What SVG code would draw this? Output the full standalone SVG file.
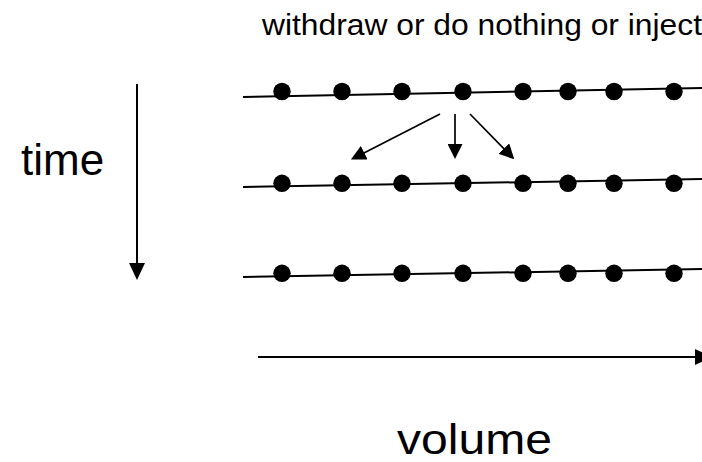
<svg xmlns="http://www.w3.org/2000/svg" width="702" height="462" viewBox="0 0 702 462">
<style>
.txt{font-family:"Liberation Sans",Arial,sans-serif;fill:#000}
.ln{stroke:#000;stroke-width:2;fill:none}
.ar{stroke:#000;stroke-width:1.7;fill:none}
.dot{fill:#000}
</style>
<defs>
<marker id="ah" markerUnits="userSpaceOnUse" markerWidth="17" markerHeight="16" viewBox="0 0 17 16" refX="9" refY="8" orient="auto">
<path d="M0,0 L17,8 L0,16 z" fill="#000"/>
</marker>
<marker id="ahs" markerUnits="userSpaceOnUse" markerWidth="15" markerHeight="15" viewBox="0 0 15 15" refX="8" refY="7.5" orient="auto">
<path d="M0,0 L15,7.5 L0,15 z" fill="#000"/>
</marker>
</defs>
<rect width="702" height="462" fill="#fff"/>
<text class="txt" x="262" y="35" font-size="30" textLength="440" lengthAdjust="spacingAndGlyphs">withdraw or do nothing or inject</text>
<text class="txt" x="21" y="175" font-size="44">time</text>
<text class="txt" x="397" y="454" font-size="43" textLength="155" lengthAdjust="spacingAndGlyphs">volume</text>
<g id="connectors">
<line class="ln" x1="243" y1="97" x2="702" y2="88"/>
<line class="ln" x1="243" y1="187" x2="702" y2="179"/>
<line class="ln" x1="243" y1="277" x2="702" y2="269"/>
<line class="ln" x1="137" y1="84" x2="137" y2="272" marker-end="url(#ah)"/>
<line class="ln" x1="258" y1="357" x2="704" y2="357" marker-end="url(#ah)"/>
<line class="ar" x1="440" y1="114" x2="357.1" y2="156.4" marker-end="url(#ahs)"/>
<line class="ar" x1="455" y1="114" x2="455" y2="152" marker-end="url(#ahs)"/>
<line class="ar" x1="470" y1="114" x2="509.4" y2="154.3" marker-end="url(#ahs)"/>
</g>
<g id="r1n1"><circle class="dot" cx="282" cy="91.5" r="8.7"/></g>
<g id="r1n2"><circle class="dot" cx="342" cy="91.5" r="8.7"/></g>
<g id="r1n3"><circle class="dot" cx="402" cy="91.5" r="8.7"/></g>
<g id="r1n4"><circle class="dot" cx="463" cy="91.5" r="8.7"/></g>
<g id="r1n5"><circle class="dot" cx="523" cy="91.5" r="8.7"/></g>
<g id="r1n6"><circle class="dot" cx="568" cy="91.5" r="8.7"/></g>
<g id="r1n7"><circle class="dot" cx="614" cy="91.5" r="8.7"/></g>
<g id="r1n8"><circle class="dot" cx="674" cy="91.5" r="8.7"/></g>
<g id="r2n1"><circle class="dot" cx="282" cy="183.3" r="8.7"/></g>
<g id="r2n2"><circle class="dot" cx="342" cy="183.3" r="8.7"/></g>
<g id="r2n3"><circle class="dot" cx="402" cy="183.3" r="8.7"/></g>
<g id="r2n4"><circle class="dot" cx="463" cy="183.3" r="8.7"/></g>
<g id="r2n5"><circle class="dot" cx="523" cy="183.3" r="8.7"/></g>
<g id="r2n6"><circle class="dot" cx="568" cy="183.3" r="8.7"/></g>
<g id="r2n7"><circle class="dot" cx="614" cy="183.3" r="8.7"/></g>
<g id="r2n8"><circle class="dot" cx="674" cy="183.3" r="8.7"/></g>
<g id="r3n1"><circle class="dot" cx="282" cy="273.3" r="8.7"/></g>
<g id="r3n2"><circle class="dot" cx="342" cy="273.3" r="8.7"/></g>
<g id="r3n3"><circle class="dot" cx="402" cy="273.3" r="8.7"/></g>
<g id="r3n4"><circle class="dot" cx="463" cy="273.3" r="8.7"/></g>
<g id="r3n5"><circle class="dot" cx="523" cy="273.3" r="8.7"/></g>
<g id="r3n6"><circle class="dot" cx="568" cy="273.3" r="8.7"/></g>
<g id="r3n7"><circle class="dot" cx="614" cy="273.3" r="8.7"/></g>
<g id="r3n8"><circle class="dot" cx="674" cy="273.3" r="8.7"/></g>
</svg>
